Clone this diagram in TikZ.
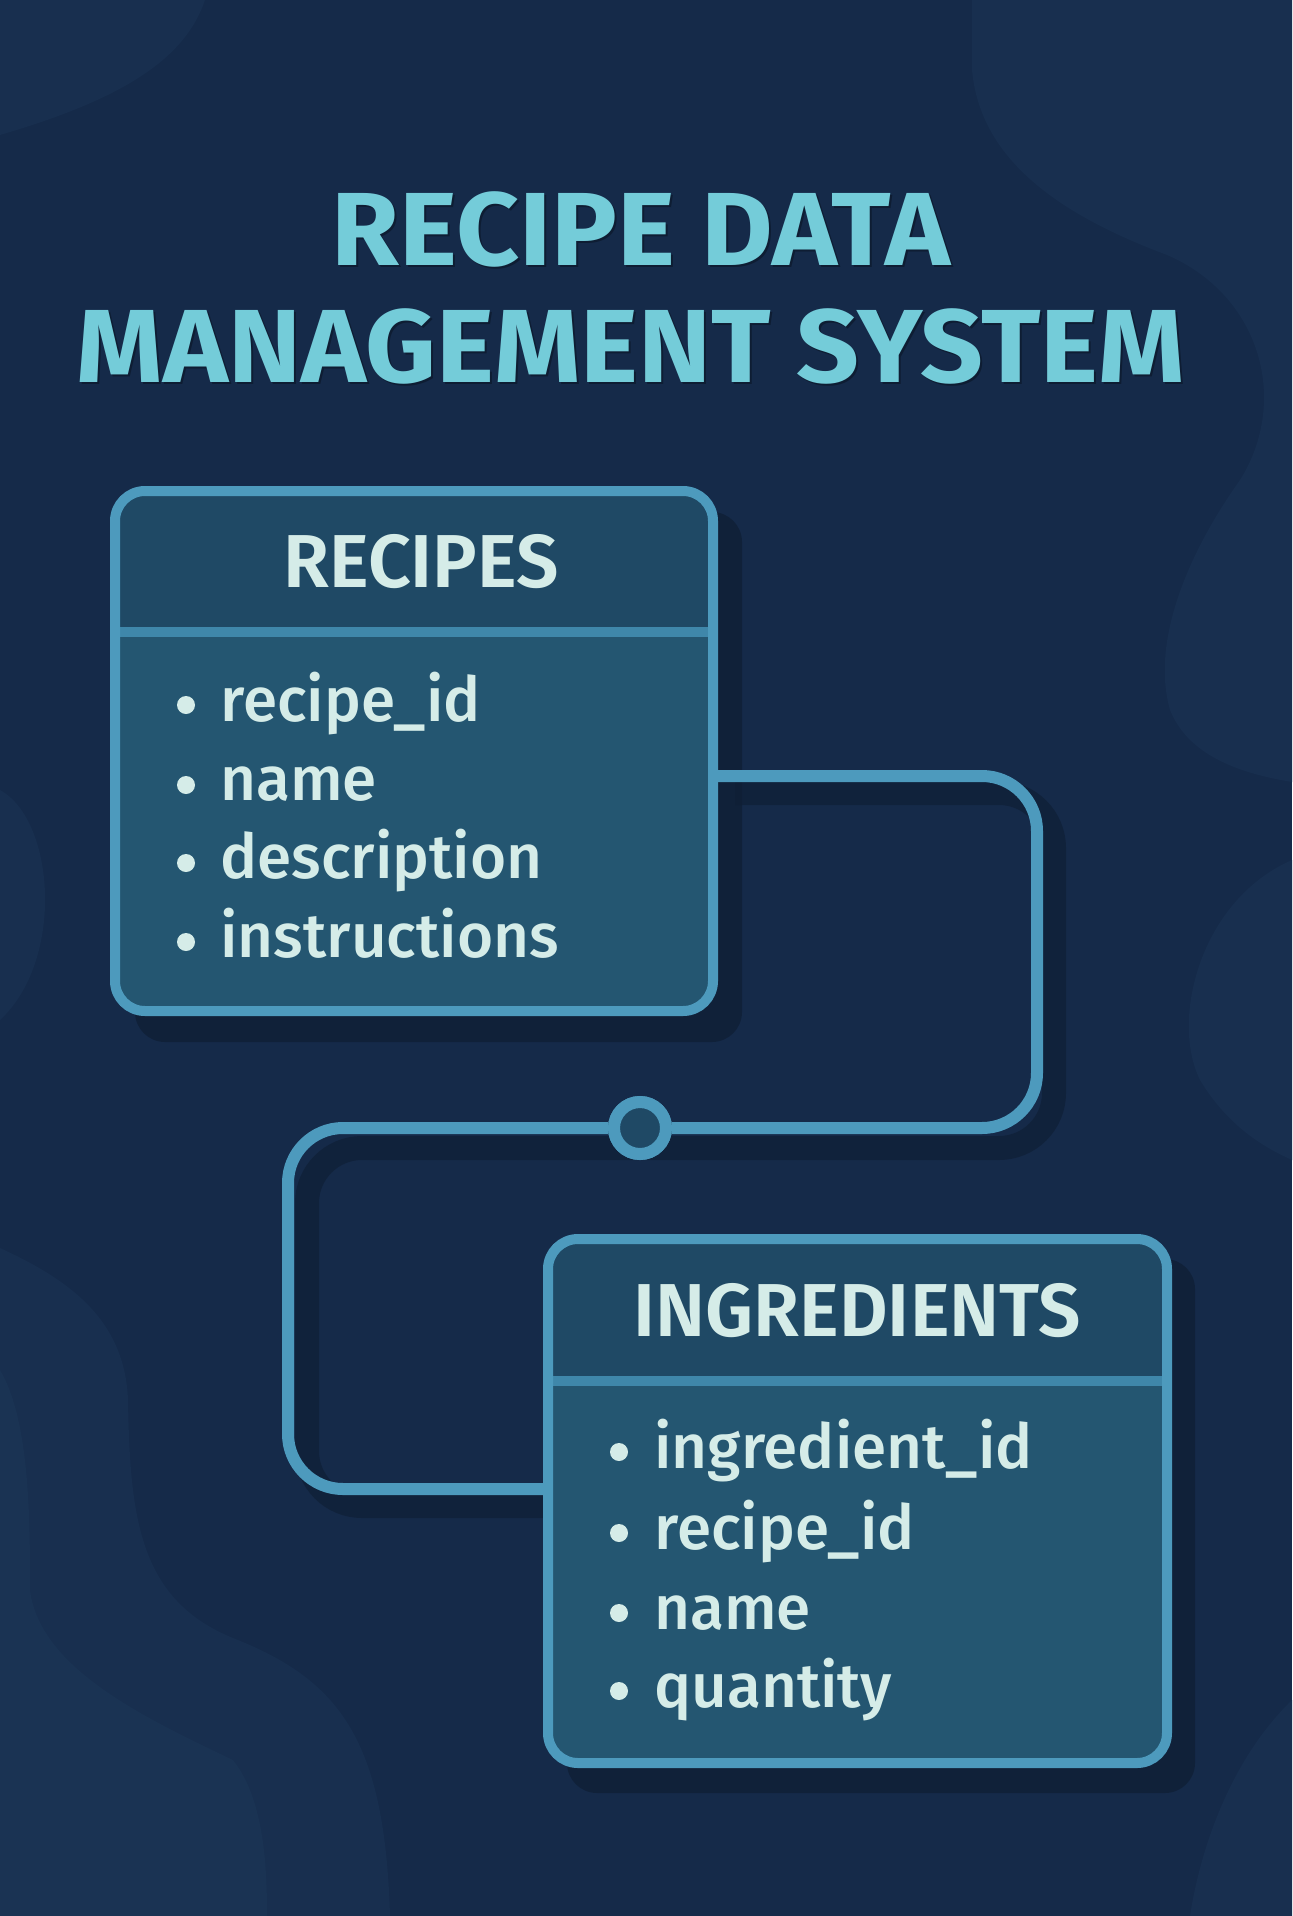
\documentclass[tikz,border=0pt]{standalone}
\usepackage{fontspec}
\setmainfont{Fira Sans}
\newfontfamily\fieldfont{Fira Sans Medium}
\newfontfamily\headfont{Fira Sans SemiBold}
\usetikzlibrary{calc}

\definecolor{bgbase}{HTML}{152A49}
\definecolor{bglight}{HTML}{182F4F}
\definecolor{bglighter}{HTML}{1A3353}
\definecolor{titlecol}{HTML}{74CCD9}
\definecolor{titleedge}{HTML}{0E1D33}
\definecolor{textcol}{HTML}{D5ECE8}
\definecolor{boxbody}{HTML}{245671}
\definecolor{boxhead}{HTML}{1F4965}
\definecolor{edgecol}{HTML}{4D9ABD}
\definecolor{divcol}{HTML}{3F87AA}
\definecolor{shadowcol}{HTML}{0F1F36}

\tikzset{
  table/.style={draw=edgecol, line width=5pt, fill=boxbody,
    rounded corners=15pt, inner sep=0pt,
    path picture={
      \fill[boxhead, sharp corners] (path picture bounding box.north west)
        rectangle ([yshift=-#1]path picture bounding box.north east);
      \draw[divcol, line width=5pt, sharp corners]
        ([yshift=-#1]path picture bounding box.north west)
        -- ([yshift=-#1]path picture bounding box.north east);
    }},
  tableshadow/.style={fill=shadowcol, opacity=0.8, rounded corners=15pt},
  conn/.style={draw=edgecol, line width=6pt, rounded corners=27.5pt},
  connshadow/.style={draw=shadowcol, opacity=0.7, line width=12pt,
    rounded corners=27.5pt},
  linkring/.style={circle, draw=edgecol, line width=6pt, fill=boxhead,
    minimum size=26pt, inner sep=0pt},
  titletext/.style={text=titlecol, inner sep=0pt,
    font=\fontsize{52pt}{52pt}\selectfont\bfseries},
  titleshade/.style={text=titleedge, inner sep=0pt,
    font=\fontsize{52pt}{52pt}\selectfont\bfseries},
  headtext/.style={text=textcol, inner sep=0pt,
    font=\fontsize{37.5pt}{37.5pt}\selectfont\headfont},
  field/.style={text=textcol, inner sep=0pt, anchor=base west,
    font=\fontsize{31pt}{31pt}\selectfont\fieldfont},
  dot/.style={circle, fill=textcol, minimum size=9pt, inner sep=0pt}
}

% wide setting of the title lines
\newcommand{\widetitle}[1]{\scalebox{1.058}[1]{#1}}

\begin{document}
\begin{tikzpicture}[x=0.5pt, y=-0.5pt]
  % canvas
  \fill[bgbase] (0,0) rectangle (1292,1916);
  \useasboundingbox (0,0) rectangle (1292,1916);

  % soft background shapes
  \fill[bglight] (0,0) -- (205,0) .. controls (185,60) and (120,100) .. (0,135) -- cycle;
  \fill[bglight] (972,0) -- (972,70) .. controls (980,160) and (1060,215) .. (1167,255)
    .. controls (1260,295) and (1290,400) .. (1240,480)
    .. controls (1190,550) and (1150,640) .. (1170,710)
    .. controls (1190,760) and (1250,775) .. (1292,782) -- (1292,0) -- cycle;
  \fill[bglight] (1292,860) .. controls (1200,900) and (1170,1020) .. (1200,1080)
    .. controls (1230,1130) and (1270,1150) .. (1292,1160) -- cycle;
  \fill[bglight] (0,790) .. controls (55,820) and (65,960) .. (0,1020) -- cycle;
  \fill[bglight] (0,1248) .. controls (70,1280) and (125,1320) .. (128,1400)
    .. controls (130,1520) and (140,1600) .. (233,1638)
    .. controls (340,1680) and (385,1740) .. (390,1916) -- (0,1916) -- cycle;
  \fill[bglighter] (0,1370) .. controls (30,1420) and (30,1520) .. (30,1590)
    .. controls (40,1670) and (150,1720) .. (233,1760)
    .. controls (265,1800) and (267,1870) .. (267,1916) -- (0,1916) -- cycle;
  \fill[bglight] (1292,1700) .. controls (1230,1760) and (1200,1850) .. (1190,1916)
    -- (1292,1916) -- cycle;

  % title
  \node[titleshade] at (643,231) {\widetitle{RECIPE DATA}};
  \node[titletext] (title1) at (641,229) {\widetitle{RECIPE DATA}};
  \node[titleshade] at (633,348) {\widetitle{MANAGEMENT SYSTEM}};
  \node[titletext] (title2) at (631,346) {\widetitle{MANAGEMENT SYSTEM}};

  % drop shadows of the two tables
  \fill[tableshadow] (135,512) rectangle (742,1042);
  \fill[tableshadow] (567,1259) rectangle (1195,1793);

  % relation line and its shadow
  \draw[connshadow] (735,793) -- (1054,793) -- (1054,1148) -- (307,1148)
    -- (307,1506) -- (560,1506);
  \coordinate (bendA) at (1037,776);
  \coordinate (bendB) at (1037,1128);
  \coordinate (bendC) at (288,1128);
  \coordinate (bendD) at (288,1489);

  % tables
  \node[table=70.5pt, minimum width=299pt, minimum height=260pt]
    (recipes) at (414,751) {};
  \node[table=71pt, minimum width=309.5pt, minimum height=262pt]
    (ingredients) at (857.5,1501) {};

  \node[linkring] (link) at (640,1128) {};
  \draw[conn] ([yshift=-12.5pt]recipes.east) -- (bendA) -- (bendB) -- (link.east);
  \draw[conn] (link.west) -- (bendC) -- (bendD) -- ([yshift=6pt]ingredients.west);
  \node[linkring] at (link) {};

  % table headings
  \node[headtext] (recipesTitle) at (421,562) {RECIPES};
  \node[headtext] (ingredientsTitle) at (857,1311) {INGREDIENTS};

  % recipe columns
  \node[dot] (rb1) at (186,705) {};
  \node[field] (rf1) at (220,721) {recipe\_id};
  \node[dot] (rb2) at (186,785) {};
  \node[field] (rf2) at (220,800) {name};
  \node[dot] (rb3) at (186,863) {};
  \node[field] (rf3) at (220,878) {description};
  \node[dot] (rb4) at (186,942) {};
  \node[field] (rf4) at (220,957) {instructions};

  % ingredient columns
  \node[dot] (ib1) at (619,1452) {};
  \node[field] (if1) at (654,1468) {ingredient\_id};
  \node[dot] (ib2) at (619,1533) {};
  \node[field] (if2) at (654,1549) {recipe\_id};
  \node[dot] (ib3) at (619,1613) {};
  \node[field] (if3) at (654,1629) {name};
  \node[dot] (ib4) at (619,1691) {};
  \node[field] (if4) at (654,1707) {quantity};
\end{tikzpicture}
\end{document}
